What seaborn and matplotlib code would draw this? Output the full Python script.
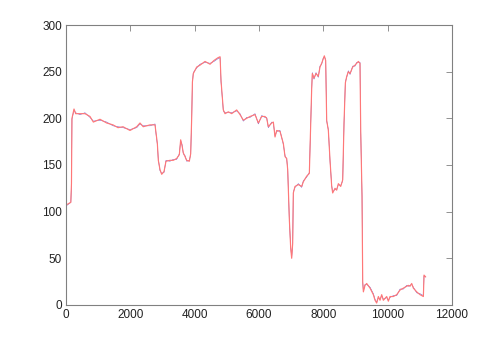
import matplotlib
matplotlib.use("Agg")
import matplotlib.pyplot as plt
import seaborn as sns
import pandas as pd

x_vals = [0, 150, 170, 185, 249, 300, 435, 590, 746, 850, 1057, 1265, 1461, 1617, 1772, 1990,
          2198, 2300, 2400, 2612, 2767, 2800, 2840, 2870, 2922, 2975, 3047, 3109, 3233, 3336,
          3440, 3523, 3565, 3606, 3647, 3700, 3752, 3834, 3876, 3907, 3930, 3958, 4063, 4166,
          4322, 4478, 4600, 4725, 4790, 4820, 4891, 4943, 5047, 5150, 5306, 5410, 5513, 5617,
          5721, 5876, 5980, 6084, 6187, 6239, 6290, 6395, 6446, 6498, 6550, 6653, 6757, 6809,
          6861, 6892, 6944, 6985, 7016, 7047, 7067, 7119, 7223, 7327, 7378, 7482, 7565, 7607,
          7638, 7658, 7710, 7772, 7844, 7896, 7948, 8000, 8031, 8073, 8104, 8156, 8208, 8260,
          8291, 8363, 8415, 8467, 8540, 8602, 8643, 8685, 8727, 8778, 8830, 8913, 8985, 9037,
          9089, 9140, 9162, 9203, 9224, 9245, 9296, 9348, 9452, 9555, 9607, 9659, 9711, 9762,
          9814, 9866, 9970, 10021, 10073, 10177, 10281, 10385, 10487, 10592, 10643, 10695,
          10747, 10799, 10903, 11006, 11110, 11130, 11182]

red_y = [107, 110, 130, 200, 210, 205, 205, 205, 202, 196, 199, 195, 193, 190, 191, 187,
         191, 195, 191, 193, 193, 184, 173, 155, 145, 140, 143, 154, 155, 155,
         157, 161, 177, 171, 163, 159, 155, 154, 162, 200, 239, 248, 255, 257,
         261, 258, 262, 265, 266, 240, 209, 205, 207, 205, 209, 204, 198, 200,
         202, 204, 195, 202, 202, 200, 191, 195, 196, 180, 187, 186, 173, 159,
         157, 145, 91, 61, 50, 66, 120, 127, 129, 127, 132, 138, 141, 195,
         232, 248, 243, 248, 245, 255, 259, 264, 267, 262, 198, 187, 155, 127,
         120, 125, 123, 130, 127, 134, 195, 238, 245, 250, 248, 255, 257, 259,
         261, 259, 187, 116, 25, 14, 21, 23, 18, 11, 5, 2, 9, 5,
         11, 5, 9, 4, 9, 9, 11, 16, 18, 20, 21, 20,
         23, 18, 14, 11, 9, 32, 30]

blue_y = [106, 110, 128, 199, 209, 206, 204, 206, 201, 197, 198, 196, 192, 191, 190, 188,
          190, 194, 192, 192, 194, 183, 172, 156, 144, 141, 142, 155, 154, 156,
          156, 162, 176, 172, 162, 160, 154, 155, 161, 199, 238, 249, 254, 258,
          260, 259, 261, 264, 265, 239, 208, 206, 206, 206, 208, 205, 197, 201,
          201, 205, 194, 203, 201, 201, 190, 196, 195, 181, 186, 187, 172, 160,
          156, 146, 90, 62, 51, 65, 121, 126, 130, 126, 133, 137, 142, 194,
          231, 249, 242, 249, 244, 256, 258, 265, 266, 263, 197, 188, 154, 128,
          121, 124, 124, 129, 128, 133, 194, 239, 244, 251, 247, 256, 256, 260,
          260, 260, 186, 117, 24, 15, 22, 22, 19, 12, 6, 3, 8, 6,
          10, 6, 8, 5, 8, 10, 10, 17, 17, 21, 20, 21,
          22, 19, 13, 12, 10, 31, 30]

x_ticks = [0, 2000, 4000, 6000, 8000, 10000, 12000]
y_ticks = [0, 50, 100, 150, 200, 250, 300]

sns.set_style("white")
plt.rcParams['font.family'] = ['Liberation Sans', 'DejaVu Sans']

df_blue = pd.DataFrame({"x": x_vals, "y": blue_y})
df_red = pd.DataFrame({"x": x_vals, "y": red_y})

fig = plt.figure(figsize=(5.0, 3.43), dpi=100)
ax = fig.add_axes([0.132, 0.111, 0.772, 0.816])

sns.lineplot(data=df_blue, x="x", y="y", sort=False, estimator=None, ax=ax,
             color="#6060e0", linewidth=0.4)
sns.lineplot(data=df_red, x="x", y="y", sort=False, estimator=None, ax=ax,
             color="#ff7878", linewidth=0.85)

ax.set_xlim(0, 12000)
ax.set_ylim(0, 300)
ax.set_xticks(x_ticks)
ax.set_yticks(y_ticks)
ax.set_xlabel("")
ax.set_ylabel("")
for s in ax.spines.values():
    s.set_visible(True)
    s.set_color("#808080")
    s.set_linewidth(0.8)
ax.tick_params(direction="in", length=4, width=0.6, color="#808080",
               labelsize=8.5, labelcolor="#222222", top=True, right=True,
               labeltop=False, labelright=False, pad=3)

fig.savefig("out.png", dpi=100, facecolor="white")
